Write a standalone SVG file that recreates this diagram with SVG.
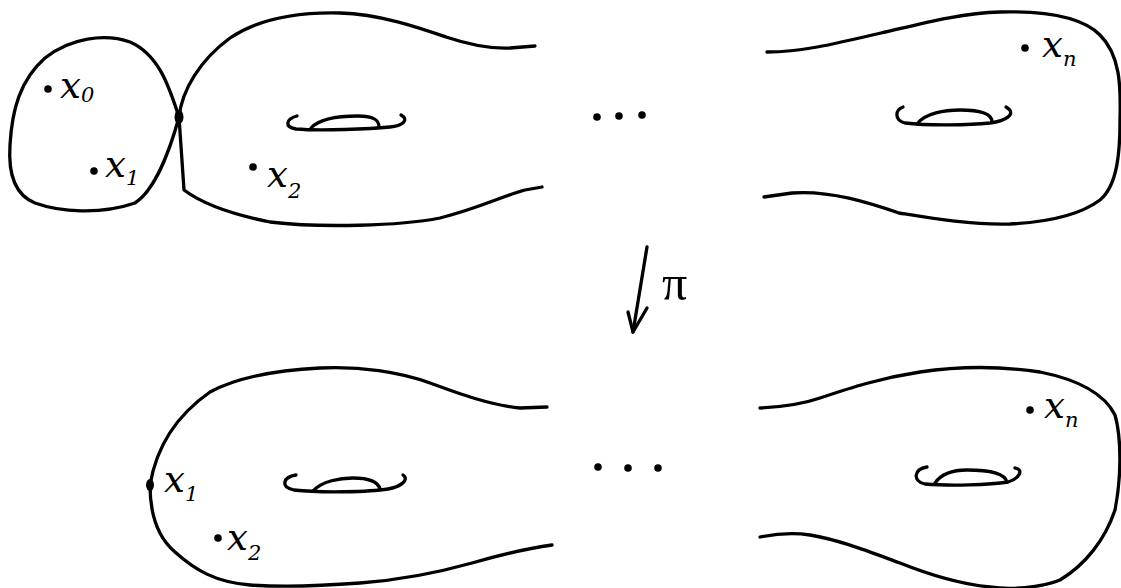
<svg xmlns="http://www.w3.org/2000/svg" width="1121" height="588" viewBox="0 0 1121 588">
<style>
.c{fill:none;stroke:#000;stroke-width:3.3;stroke-linecap:round;stroke-linejoin:round}
.d{fill:#000}
.l{font-family:"DejaVu Serif","Liberation Serif",serif;font-style:italic;font-size:37px;fill:#000}
.s{font-size:21px}
.p{font-family:"Liberation Serif","DejaVu Serif",serif;font-size:50px;fill:#000}
</style>
<rect width="1121" height="588" fill="#fff"/>
<g id="sphere-top">
<path class="c" d="M179,117 C170,90 160,55 130,42 C105,33 70,38 45,58 C20,80 12,110 10,145 C8,175 15,195 35,203 C60,212 100,215 135,203 C155,190 170,150 179,117 Z"/>
<circle class="d" cx="48" cy="89" r="3.8"/>
<text class="l" x="60" y="98">x<tspan class="s" dy="4">0</tspan></text>
<circle class="d" cx="94" cy="171" r="3.8"/>
<text class="l" x="105" y="177">x<tspan class="s" dy="8">1</tspan></text>
</g>
<g id="node-top">
<ellipse class="d" cx="179" cy="117" rx="4.5" ry="7"/>
</g>
<g id="torus-top-left">
<path class="c" d="M179,117 C182,90 200,60 230,38 C260,18 300,12 340,13 C380,14 420,28 446,37 C470,45 490,49 510,48 L535,46"/>
<path class="c" d="M179,117 L184,190 C200,202 230,214 270,222 C320,228 400,226 440,218 C480,208 505,195 525,190 L542,187"/>
<path class="c" d="M297,116 C286,119 284,127 296,129 C320,131 370,129 390,127 C402,126 410,120 401,115"/>
<path class="c" d="M311,128 C320,118 340,116 358,116 C374,116 379,120 379,127"/>
<circle class="d" cx="253" cy="167" r="3.8"/>
<text class="l" x="267" y="187">x<tspan class="s" dy="11">2</tspan></text>
</g>
<g id="dots-top">
<circle class="d" cx="597" cy="117" r="3.8"/>
<circle class="d" cx="619" cy="116" r="3.8"/>
<circle class="d" cx="642" cy="115" r="3.8"/>
</g>
<g id="torus-top-right">
<path class="c" d="M767,52 C800,52 830,45 881,33 C920,24 960,13 1000,12 C1040,11 1080,15 1100,35 C1120,55 1121,85 1120,120 C1120,150 1118,185 1100,200 C1080,215 1050,222 1010,224 C970,225 930,218 899,213 C870,203 830,190 792,193 L764,197"/>
<path class="c" d="M903,107 C895,110 894,120 905,123 C930,126 970,125 990,123 C1005,121 1018,114 1006,107"/>
<path class="c" d="M917,124 C925,113 945,110 960,110 C980,110 992,114 992,122"/>
<circle class="d" cx="1025" cy="48" r="3.8"/>
<text class="l" x="1042" y="57">x<tspan class="s" dy="9">n</tspan></text>
</g>
<g id="connectors">
<path class="c" d="M647,247 L633,332"/>
<path class="c" d="M628,312 L633,332 L647,308"/>
<text class="p" x="662" y="300">π</text>
</g>
<g id="torus-bottom-left">
<path class="c" d="M150,485 C155,455 170,420 210,392 C240,376 280,370 320,368 C360,366 400,372 430,383 C460,394 490,405 520,408 L547,407"/>
<path class="c" d="M150,485 C150,510 155,535 175,552 C195,570 215,582 250,585 C280,587 320,586 360,583 C400,580 440,572 472,563 C500,555 530,548 552,545"/>
<path class="c" d="M296,475 C283,477 280,487 294,490 C320,493 370,492 388,489 C400,487 410,480 403,475"/>
<path class="c" d="M313,491 C322,481 340,478 353,478 C370,478 378,482 380,489"/>
<ellipse class="d" cx="150" cy="485" rx="4" ry="6"/>
<text class="l" x="164" y="492">x<tspan class="s" dy="9">1</tspan></text>
<circle class="d" cx="218" cy="538" r="3.8"/>
<text class="l" x="227" y="550">x<tspan class="s" dy="10">2</tspan></text>
</g>
<g id="dots-bottom">
<circle class="d" cx="598" cy="467" r="3.8"/>
<circle class="d" cx="628" cy="468" r="3.8"/>
<circle class="d" cx="658" cy="468" r="3.8"/>
</g>
<g id="torus-bottom-right">
<path class="c" d="M760,408 C780,407 800,405 820,398 C850,388 880,378 920,372 C960,366 1000,366 1040,372 C1080,380 1105,395 1115,415 C1122,440 1121,480 1115,510 C1105,540 1085,565 1060,580 C1040,588 1010,590 990,587 C960,584 930,575 900,563 C870,552 840,540 810,535 C790,532 775,534 760,537"/>
<path class="c" d="M927,467 C914,469 912,481 925,484 C950,486 990,485 1008,482 C1018,479 1025,470 1015,468"/>
<path class="c" d="M935,483 C942,473 955,470 967,470 C990,470 1005,474 1007,482"/>
<circle class="d" cx="1030" cy="410" r="3.8"/>
<text class="l" x="1044" y="418">x<tspan class="s" dy="9">n</tspan></text>
</g>
</svg>
